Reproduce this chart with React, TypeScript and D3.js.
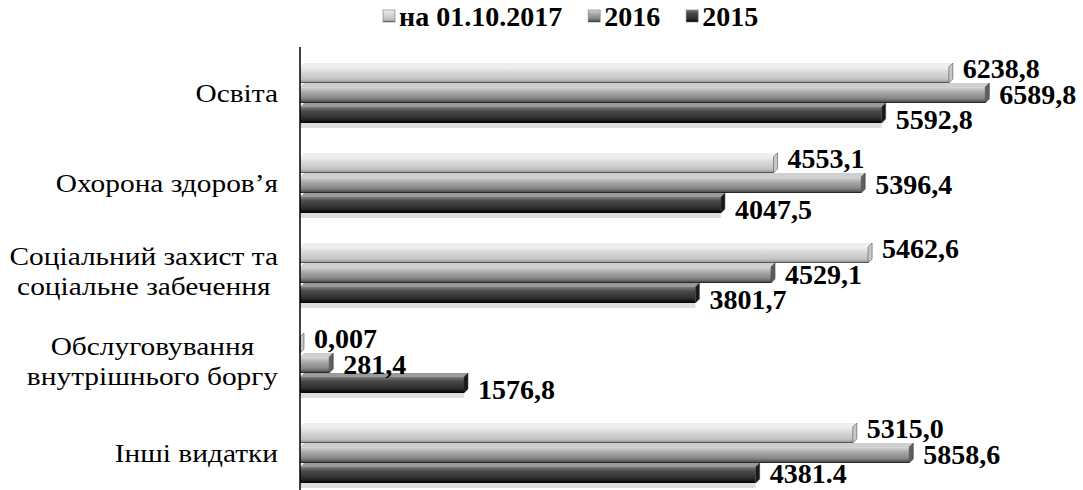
import React, { useEffect, useRef } from 'react'

import * as d3 from 'd3'

const categories = [
  ['Освіта'],
  ['Охорона здоров’я'],
  ['Соціальний захист та', 'соціальне забечення'],
  ['Обслуговування', 'внутрішнього боргу'],
  ['Інші видатки'],
]
const seriesNames = ['на 01.10.2017', '2016', '2015']
const valuesOct2017 = [6238.8, 4553.1, 5462.6, 0.007, 5315.0]
const values2016 = [6589.8, 5396.4, 4529.1, 281.4, 5858.6]
const values2015 = [5592.8, 4047.5, 3801.7, 1576.8, 4381.4]
const labelTexts = [
  ['6238,8', '4553,1', '5462,6', '0,007', '5315,0'],
  ['6589,8', '5396,4', '4529,1', '281,4', '5858,6'],
  ['5592,8', '4047,5', '3801,7', '1576,8', '4381.4'],
]

const FONT = 'Liberation Serif, Tinos, Times New Roman, DejaVu Serif, serif'

const App = () => {
  const svgRef = useRef(null)

  useEffect(() => {
    if (!svgRef.current) return
    const svg = d3.select(svgRef.current)
    svg.selectAll('*').remove()
    const width = 1083
    const height = 490
    const axisX = 300
    const depth = 4
    svg.attr('width', width).attr('height', height)

    const series = [valuesOct2017, values2016, values2015]
    const keys = categories.map((c) => c.join(' '))

    const x = d3.scaleLinear().domain([0, 7000]).range([axisX, axisX + 728])
    const y = d3
      .scaleBand()
      .domain(keys)
      .range([48, 498])
      .paddingInner(1 / 3)
      .paddingOuter(1 / 6)
    const ySub = d3
      .scaleBand()
      .domain(seriesNames)
      .range([0, y.bandwidth()])

    const defs = svg.append('defs')
    const shades = [
      [
        ['0%', '#f0f0f0'],
        ['30%', '#dadada'],
        ['75%', '#c4c4c4'],
        ['92%', '#a0a0a0'],
        ['100%', '#222'],
      ],
      [
        ['0%', '#d8d8d8'],
        ['30%', '#ababab'],
        ['70%', '#888'],
        ['90%', '#5a5a5a'],
        ['100%', '#111'],
      ],
      [
        ['0%', '#7c7c7c'],
        ['25%', '#4a4a4a'],
        ['70%', '#2e2e2e'],
        ['88%', '#141414'],
        ['100%', '#000'],
      ],
    ]
    const topFill = ['#eeeeee', '#cfcfcf', '#9a9a9a']
    const endFill = ['#c8c8c8', '#5e5e5e', '#1a1a1a']
    shades.forEach((stops, i) => {
      const g = defs
        .append('linearGradient')
        .attr('id', `bar-grad-${i}`)
        .attr('x1', '0%')
        .attr('y1', '0%')
        .attr('x2', '0%')
        .attr('y2', '100%')
      stops.forEach(([o, c]) => g.append('stop').attr('offset', o).attr('stop-color', c))
    })

    // floor strip under each group
    keys.forEach((k, ci) => {
      const bottom = y(k) + y.bandwidth()
      svg
        .append('rect')
        .attr('x', axisX)
        .attr('y', bottom)
        .attr('width', x(values2015[ci]) - axisX)
        .attr('height', 5)
        .attr('fill', '#dedede')
    })

    series.forEach((vals, si) => {
      const g = svg.append('g')
      vals.forEach((v, ci) => {
        const y0 = y(keys[ci]) + ySub(seriesNames[si])
        const bh = ySub.bandwidth()
        const x0 = x(0)
        const x1 = x(v)
        g.append('polygon')
          .attr(
            'points',
            [
              [x0, y0 + depth],
              [x0 + depth, y0],
              [x1 + depth, y0],
              [x1, y0 + depth],
            ].join(' ')
          )
          .attr('fill', topFill[si])
        g.append('rect')
          .attr('x', x0)
          .attr('y', y0 + depth)
          .attr('width', Math.max(0, x1 - x0))
          .attr('height', bh - depth)
          .attr('fill', `url(#bar-grad-${si})`)
        g.append('polygon')
          .attr(
            'points',
            [
              [x1, y0 + depth],
              [x1 + depth, y0],
              [x1 + depth, y0 + bh - depth],
              [x1, y0 + bh],
            ].join(' ')
          )
          .attr('fill', endFill[si])
          .attr('stroke', '#333')
          .attr('stroke-width', 0.5)
      })
    })

    // value labels
    const labelDy = [-5, 1, 6]
    series.forEach((vals, si) => {
      vals.forEach((v, ci) => {
        const y0 = y(keys[ci]) + ySub(seriesNames[si])
        const cy = Math.min(y0 + ySub.bandwidth() / 2 + labelDy[si], height - 17)
        const t = svg
          .append('text')
          .attr('x', x(v) + depth + 10)
          .attr('y', cy)
          .attr('dy', '0.35em')
          .style('font-family', FONT)
          .attr('font-weight', 'bold')
          .attr('font-size', 28)
          .attr('fill', '#000')
          .text(labelTexts[si][ci])
        const w = t.node().getComputedTextLength()
        const lx = Math.min(x(v) + depth + 10, width - w - 3)
        t.attr('x', lx)
      })
    })

    // axis line
    svg
      .append('line')
      .attr('x1', axisX)
      .attr('x2', axisX)
      .attr('y1', 47)
      .attr('y2', height)
      .attr('stroke', '#000')
      .attr('stroke-width', 1.5)

    // category labels (slightly stretched like the original)
    const labelRight = 278
    categories.forEach((lines, ci) => {
      const cy = y(keys[ci]) + y.bandwidth() / 2
      const g = svg
        .append('g')
        .attr('transform', `translate(${labelRight},0) scale(1.13,1)`)
      const t = g
        .append('text')
        .style('font-family', FONT)
        .attr('font-size', 26)
        .attr('fill', '#000')
      const lh = 30
      lines.forEach((line, li) => {
        t.append('tspan')
          .attr('y', cy + (li - (lines.length - 1) / 2) * lh - 2 * (lines.length - 1))
          .attr('dy', '0.35em')
          .text(line)
      })
      const widths = []
      t.selectAll('tspan').each(function () {
        widths.push(this.getComputedTextLength())
      })
      const maxW = d3.max(widths)
      if (lines.length === 1) {
        t.attr('text-anchor', 'end')
        t.selectAll('tspan').attr('x', 0)
      } else {
        t.attr('text-anchor', 'middle')
        t.selectAll('tspan').attr('x', -maxW / 2)
      }
    })

    // legend
    const legend = svg.append('g')
    let lx = 383
    seriesNames.forEach((name, si) => {
      legend
        .append('rect')
        .attr('x', lx)
        .attr('y', 10)
        .attr('width', 12)
        .attr('height', 12)
        .attr('fill', `url(#bar-grad-${si})`)
        .attr('stroke', '#777')
        .attr('stroke-width', 0.6)
      const t = legend
        .append('text')
        .attr('x', lx + 16)
        .attr('y', 16)
        .attr('dy', '0.35em')
        .style('font-family', FONT)
        .attr('font-weight', 'bold')
        .attr('font-size', 28)
        .text(name)
      lx += 16 + t.node().getComputedTextLength() + 26
    })
  }, [])

  return (
    <svg
      ref={svgRef}
      style={{ position: 'absolute', left: 0, top: 0, background: '#fff' }}
    ></svg>
  )
}

export default App
